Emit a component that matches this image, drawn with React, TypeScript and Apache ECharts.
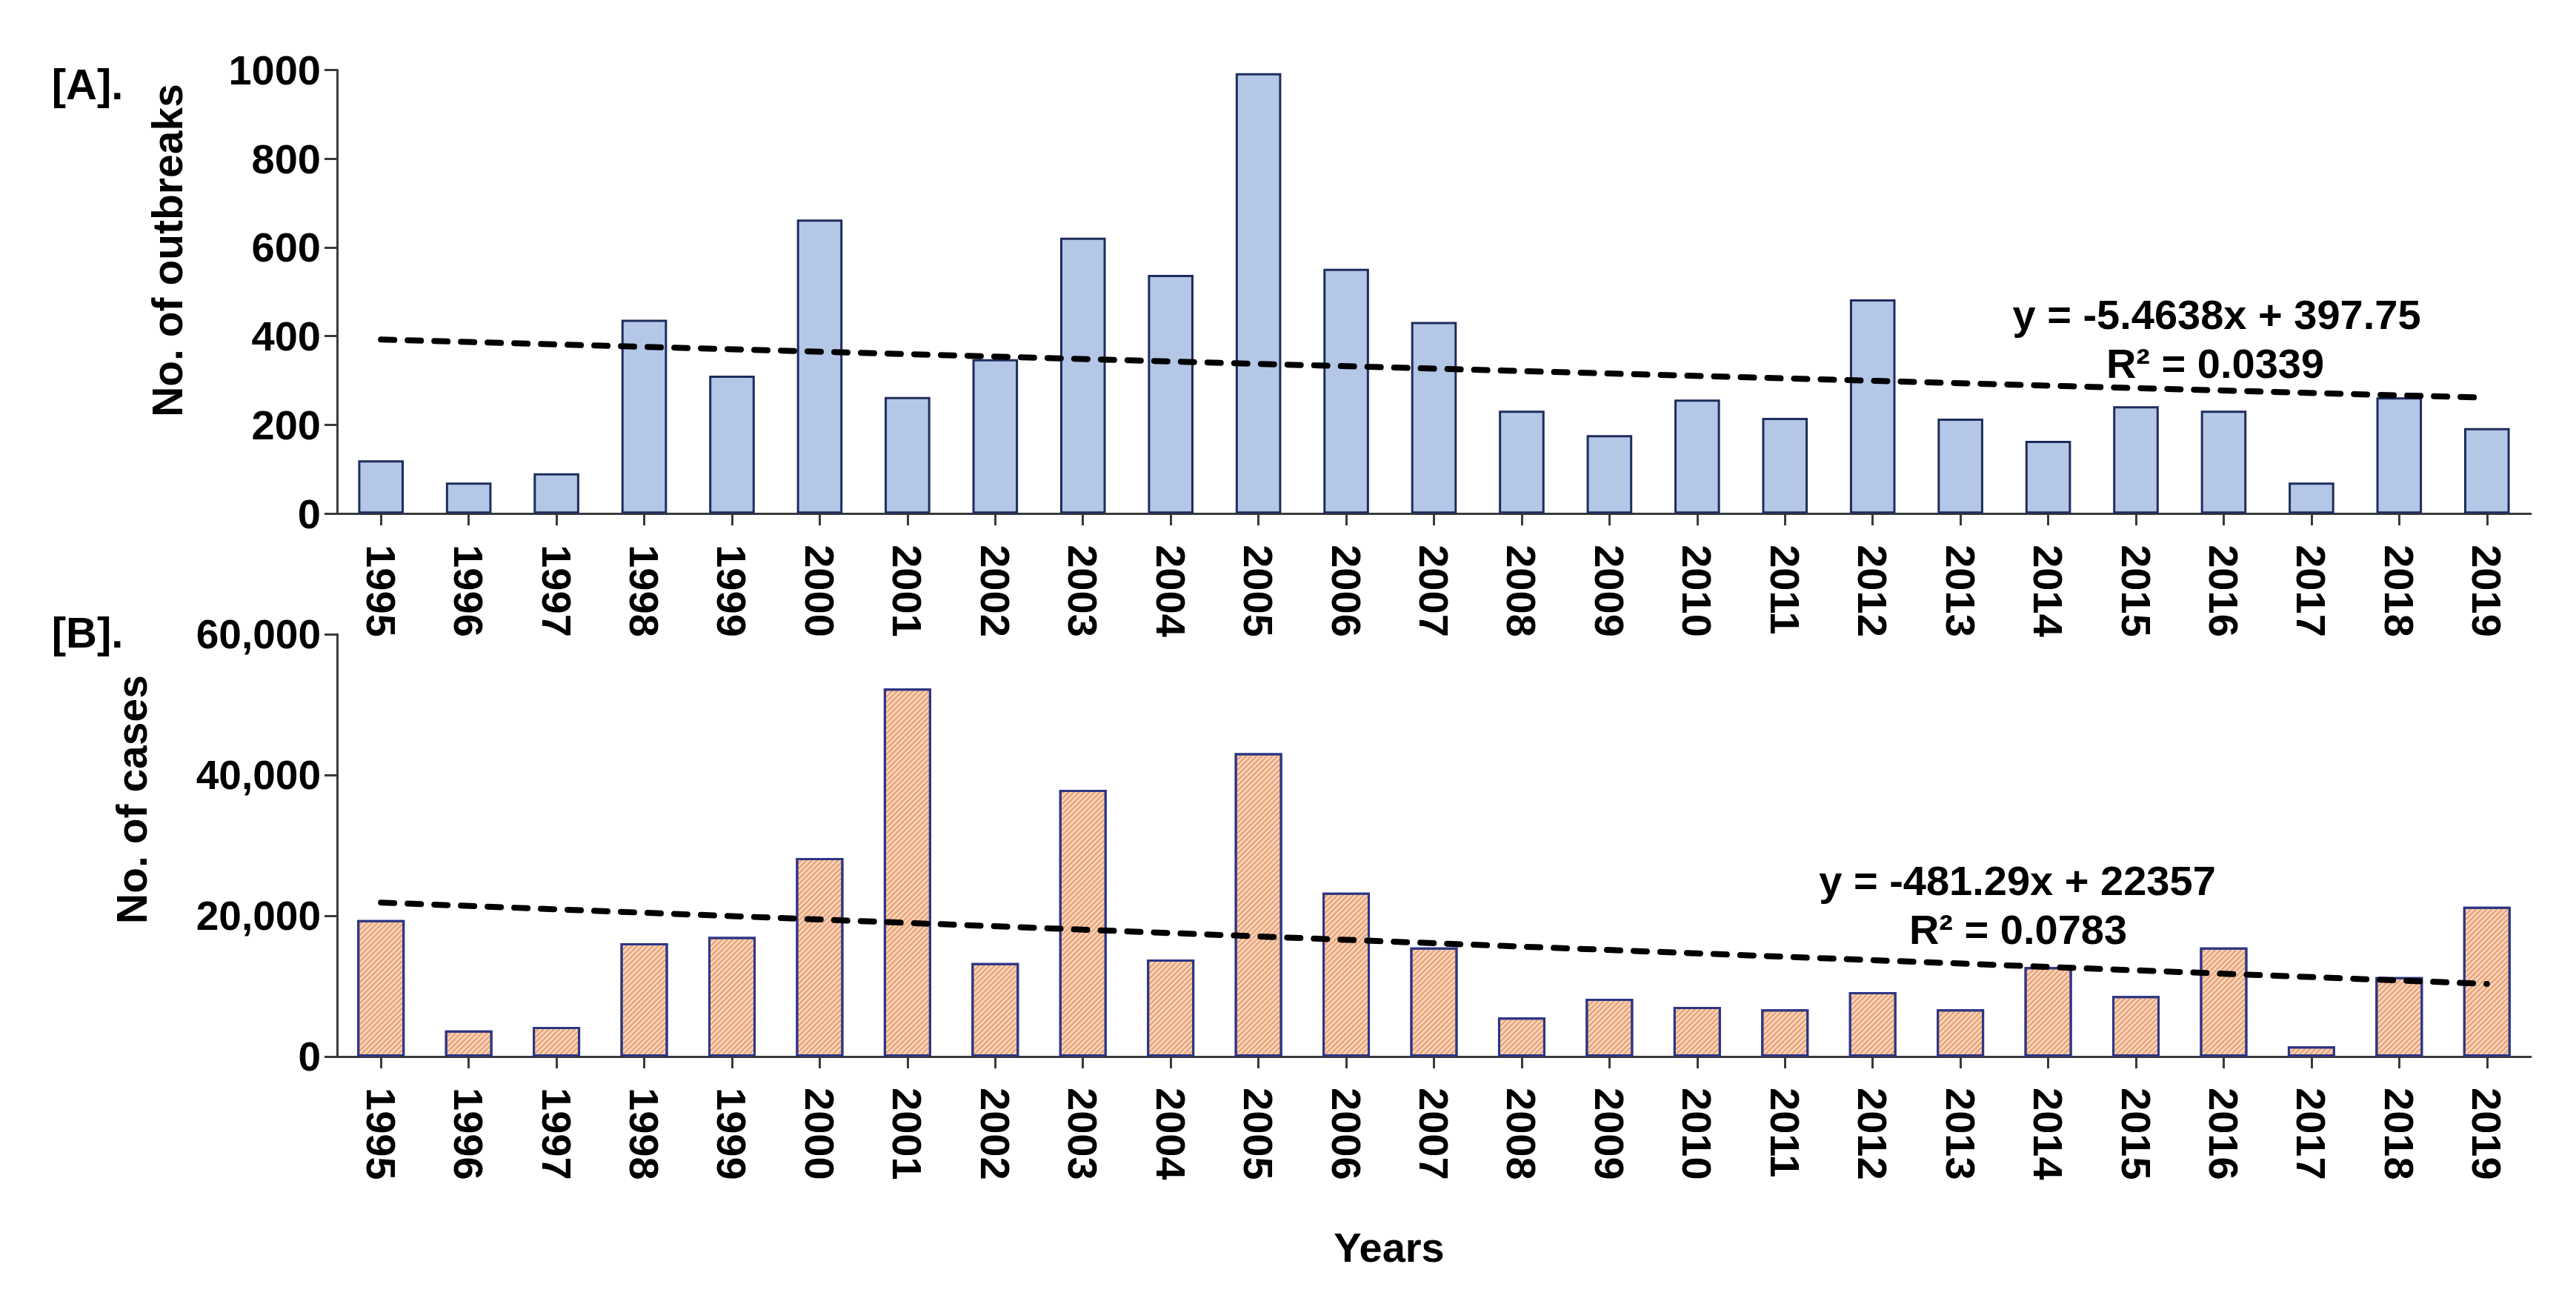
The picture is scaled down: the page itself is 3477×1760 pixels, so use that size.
import React, { useEffect, useRef } from "react";
import * as echarts from "echarts";

const years = ["1995","1996","1997","1998","1999","2000","2001","2002","2003","2004","2005","2006","2007","2008","2009","2010","2011","2012","2013","2014","2015","2016","2017","2018","2019"];
const outbreaks = [120, 70, 91, 437, 311, 663, 263, 348, 622, 538, 993, 552, 432, 232, 177, 257, 216, 483, 214, 164, 242, 232, 70, 262, 193];
const cases = [19400, 3700, 4200, 16100, 17000, 28200, 52300, 13300, 37900, 13800, 43100, 23300, 15500, 5550, 8200, 7050, 6700, 9150, 6700, 12700, 8600, 15500, 1450, 11300, 21300];
const outbreakTicks = [0, 200, 400, 600, 800, 1000];
const caseTicks = [0, 20000, 40000, 60000];
const trendA = { slope: -5.4638, intercept: 397.75, eq: "y = -5.4638x + 397.75", r2: "R² = 0.0339" };
const trendB = { slope: -481.29, intercept: 22357, eq: "y = -481.29x + 22357", r2: "R² = 0.0783" };

const FONT = "'Liberation Sans', Arial, sans-serif";

export default function App() {
  const ref = useRef<HTMLDivElement>(null);
  useEffect(() => {
    document.body.style.margin = "0";
    if (!ref.current) return;
    const chart = echarts.init(ref.current, undefined, { renderer: "svg" });
    const n = years.length;
    const trendLine = (t: { slope: number; intercept: number }) => [
      [years[0], t.slope * 1 + t.intercept],
      [years[n - 1], t.slope * n + t.intercept],
    ];
    const axisLine = { show: true, lineStyle: { color: "#3a3a3a", width: 3 } };
    const xAxisCommon = {
      type: "category",
      data: years,
      axisLine,
      axisTick: { show: true, alignWithLabel: true, length: 16, lineStyle: { color: "#3a3a3a", width: 3 } },
      axisLabel: { rotate: -90, margin: 42, fontSize: 56, fontWeight: "bold", color: "#000", fontFamily: FONT, interval: 0 },
      splitLine: { show: false },
    };
    const yAxisCommon = {
      type: "value",
      axisLine,
      axisTick: { show: true, length: 17, lineStyle: { color: "#3a3a3a", width: 3 } },
      splitLine: { show: false },
    };
    const lbl = (text: string, x: number, y: number, size: number, rot = 0) => ({
      type: "text",
      x,
      y,
      rotation: rot,
      style: { text, fontSize: size, fontWeight: "bold", fontFamily: FONT, fill: "#000", align: "center", verticalAlign: "middle" },
    });
    const trendStyle = { color: "#000", width: 8, type: [18, 18], cap: "round" };
    chart.setOption({
      animation: false,
      backgroundColor: "#fff",
      grid: [
        { left: 455, right: 61, top: 94.5, height: 598.7 },
        { left: 455, right: 61, top: 856, height: 570 },
      ],
      xAxis: [
        { ...xAxisCommon, gridIndex: 0 },
        { ...xAxisCommon, gridIndex: 1 },
      ],
      yAxis: [
        {
          ...yAxisCommon,
          gridIndex: 0,
          min: outbreakTicks[0],
          max: outbreakTicks[outbreakTicks.length - 1],
          interval: outbreakTicks[1] - outbreakTicks[0],
          axisLabel: { fontSize: 56, fontWeight: "bold", color: "#000", fontFamily: FONT, margin: 22, formatter: (v: number) => String(v) },
        },
        {
          ...yAxisCommon,
          gridIndex: 1,
          min: caseTicks[0],
          max: caseTicks[caseTicks.length - 1],
          interval: caseTicks[1] - caseTicks[0],
          axisLabel: {
            fontSize: 55,
            fontWeight: "bold",
            color: "#000",
            fontFamily: FONT,
            margin: 22,
            formatter: (v: number) => v.toLocaleString("en-US"),
          },
        },
      ],
      series: [
        {
          type: "bar",
          xAxisIndex: 0,
          yAxisIndex: 0,
          data: outbreaks,
          barWidth: "52%",
          itemStyle: { color: "#b4c7e7", borderColor: "#1f2d5c", borderWidth: 3 },
        },
        {
          type: "bar",
          xAxisIndex: 1,
          yAxisIndex: 1,
          data: cases,
          barWidth: "54%",
          itemStyle: {
            color: "#f9d3b8",
            borderColor: "#2c3585",
            borderWidth: 3,
            decal: {
              symbol: "rect",
              symbolSize: 1,
              color: "rgba(222,140,90,0.75)",
              dashArrayX: [1, 0],
              dashArrayY: [2, 3],
              rotation: -Math.PI / 4,
            },
          },
        },
        {
          type: "line",
          xAxisIndex: 0,
          yAxisIndex: 0,
          data: trendLine(trendA),
          symbol: "none",
          z: 5,
          lineStyle: trendStyle,
        },
        {
          type: "line",
          xAxisIndex: 1,
          yAxisIndex: 1,
          data: trendLine(trendB),
          symbol: "none",
          z: 5,
          lineStyle: trendStyle,
        },
      ],
      graphic: [
        lbl("[A].", 118, 113, 58),
        lbl("[B].", 118, 853, 58),
        lbl("No. of outbreaks", 226, 338, 57, Math.PI / 2),
        lbl("No. of cases", 178, 1079, 57, Math.PI / 2),
        lbl(trendA.eq, 2992, 424, 56),
        lbl(trendA.r2, 2990, 490, 56),
        lbl(trendB.eq, 2723, 1188, 56),
        lbl(trendB.r2, 2724, 1254, 56),
        lbl("Years", 1875, 1683, 56),
      ],
    });
    return () => chart.dispose();
  }, []);
  return <div ref={ref} style={{ width: 3477, height: 1760 }} />;
}
